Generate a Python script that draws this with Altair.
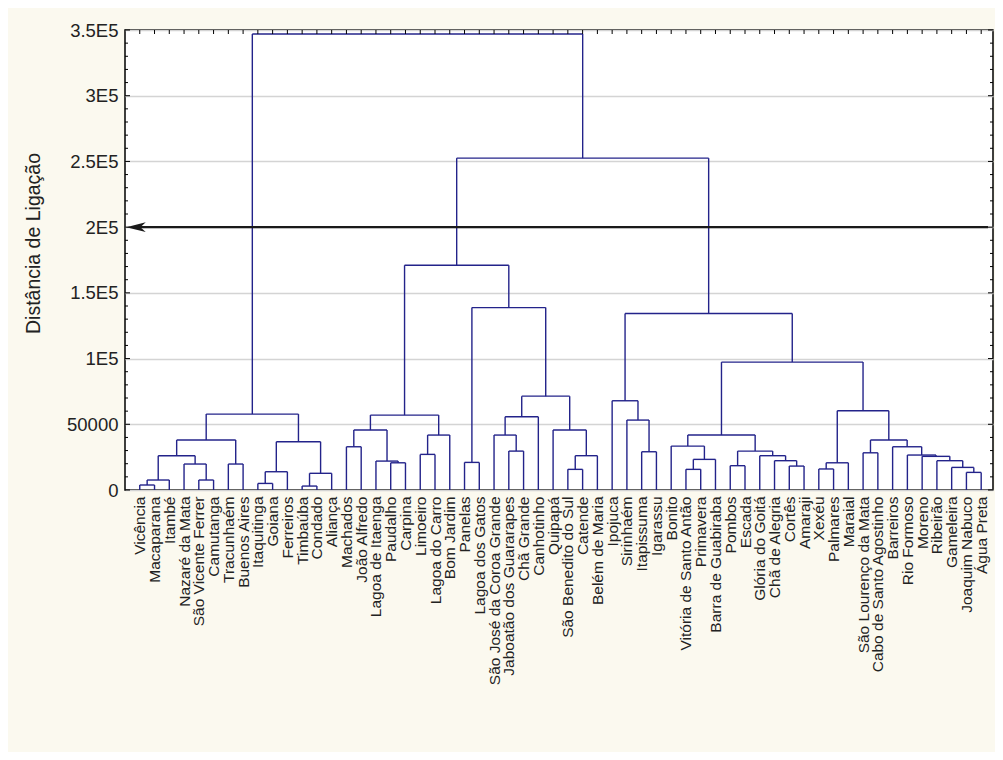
import json
import altair as alt
import pandas as pd

# ---------------- data ----------------
leaf_names = [
    "Vicência", "Macaparana", "Itambé", "Nazaré da Mata", "São Vicente Ferrer",
    "Camutanga", "Tracunhaém", "Buenos Aires", "Itaquitinga", "Goiana",
    "Ferreiros", "Timbaúba", "Condado", "Aliança", "Machados", "João Alfredo",
    "Lagoa de Itaenga", "Paudalho", "Carpina", "Limoeiro", "Lagoa do Carro",
    "Bom Jardim", "Panelas", "Lagoa dos Gatos", "São José da Coroa Grande",
    "Jaboatão dos Guararapes", "Chã Grande", "Canhotinho", "Quipapá",
    "São Benedito do Sul", "Catende", "Belém de Maria", "Ipojuca", "Sirinhaém",
    "Itapissuma", "Igarassu", "Bonito", "Vitória de Santo Antão", "Primavera",
    "Barra de Guabiraba", "Pombos", "Escada", "Glória do Goitá", "Chã de Alegria",
    "Cortês", "Amaraji", "Xexéu", "Palmares", "Maraial", "São Lourenço da Mata",
    "Cabo de Santo Agostinho", "Barreiros", "Rio Formoso", "Moreno", "Ribeirão",
    "Gameleira", "Joaquim Nabuco", "Água Preta",
]

# merges written as (linkage distance, left, right); integers = leaf number (1-based)
group_left = (57750,
              (38000,
               (26060, (7600, (3800, 1, 2), 3), (19760, 4, (7600, 5, 6))),
               (19760, 7, 8)),
              (36700,
               (13900, (5000, 9, 10), 11),
               (12700, (3000, 12, 13), 14)))

group_middle = (171000,
                (57000,
                 (45600, (32900, 15, 16), (22000, 17, (20700, 18, 19))),
                 (41800, (27100, 20, 21), 22)),
                (138800,
                 (21000, 23, 24),
                 (71400,
                  (55700, (41800, 25, (29600, 26, 27)), 28),
                  (45600, 29, (26100, (15700, 30, 31), 32)))))

group_right = (134300,
               (67900, 33, (53200, 34, (29100, 35, 36))),
               (97300,
                (41800,
                 (33400, 37, (23300, (15700, 38, 39), 40)),
                 (29600, (18500, 41, 42),
                  (26100, 43, (22300, 44, (18200, 45, 46))))),
                (60300,
                 (20700, (16000, 47, 48), 49),
                 (38000,
                  (28300, 50, 51),
                  (32900, 52,
                   (26600, 53, (25600, 54, (22300, 55, (17200, 56, (13400, 57, 58))))))))))

h_middle_right = 252500
h_root = 347000
cut_distance = 200000

y_major = [0, 50000, 100000, 150000, 200000, 250000, 300000, 350000]
y_minor = [v for v in range(10000, 350000, 10000) if v % 50000 != 0]

# ---------------- layout of the tree from the merges ----------------
tree = (h_root, group_left, (h_middle_right, group_middle, group_right))
segs = []


def walk(node):
    if isinstance(node, int):
        return float(node), 0.0
    h, a, b = node
    xa, ya = walk(a)
    xb, yb = walk(b)
    segs.append({"x": xa, "x2": xa, "y": ya, "y2": h})
    segs.append({"x": xb, "x2": xb, "y": yb, "y2": h})
    segs.append({"x": xa, "x2": xb, "y": h, "y2": h})
    return (xa + xb) / 2.0, h


walk(tree)
seg_df = pd.DataFrame(segs)
leaf_df = pd.DataFrame({"x": [float(i) for i in range(1, len(leaf_names) + 1)]})
major_df = pd.DataFrame({"y": y_major})
minor_df = pd.DataFrame({"y": y_minor})
cut_df = pd.DataFrame({"y": [cut_distance]})

# ---------------- chart ----------------
W, H = 868, 460
FONT = "Liberation Sans"
LINE = "#23238a"
xs = alt.Scale(domain=[0, 58.8], nice=False, zero=False)
ys = alt.Scale(domain=[0, 350000], nice=False)

label_expr = json.dumps(leaf_names, ensure_ascii=False) + "[datum.value - 1]"
y_label_expr = ("datum.value < 100000 ? format(datum.value, 'd') : "
                "format(datum.value / 100000, '~g') + 'E5'")

x_axis = alt.Axis(
    values=list(range(1, len(leaf_names) + 1)), labelExpr=label_expr,
    labelAngle=270, labelFontSize=15.5, labelFont=FONT, labelColor="#222",
    labelPadding=6, labelOverlap=False, labelBound=False, labelFlush=False,
    labelLimit=500, ticks=False, domain=False, grid=False, title="")
y_axis = alt.Axis(
    values=y_major, labelExpr=y_label_expr, labelFontSize=18.5, labelFont=FONT,
    labelColor="#222", labelPadding=7, ticks=False, domain=False,
    grid=True, gridColor="#d4d4d4", gridWidth=1.5,
    title="Distância de Ligação", titleFont=FONT, titleFontSize=19.5,
    titleFontWeight="normal", titleColor="#222", titleX=-92, titleY=213,
    titleAlign="center", titleBaseline="middle")


def X():
    return alt.X("x:Q", scale=xs, axis=x_axis)


def Y():
    return alt.Y("y:Q", scale=ys, axis=y_axis)


tree_layer = alt.Chart(seg_df).mark_rule(color=LINE, strokeWidth=1.4).encode(
    x=X(), x2="x2:Q", y=Y(), y2="y2:Q")

tick_left_major = alt.Chart(major_df).mark_rule(color="black", strokeWidth=1).encode(
    y=Y(), x=alt.value(0), x2=alt.value(5))
tick_left_minor = alt.Chart(minor_df).mark_rule(color="black", strokeWidth=1).encode(
    y=Y(), x=alt.value(0), x2=alt.value(3))
tick_right_major = alt.Chart(major_df).mark_rule(color="black", strokeWidth=1).encode(
    y=Y(), x=alt.value(W - 5), x2=alt.value(W))
tick_right_minor = alt.Chart(minor_df).mark_rule(color="black", strokeWidth=1).encode(
    y=Y(), x=alt.value(W - 3), x2=alt.value(W))
tick_top = alt.Chart(leaf_df).mark_rule(color="black", strokeWidth=1).encode(
    x=X(), y=alt.value(0), y2=alt.value(4))

arrow_line = alt.Chart(cut_df).mark_rule(color="#1a1a1a", strokeWidth=2.2).encode(
    y=Y(), x=alt.value(10), x2=alt.value(W - 5))
arrow_head = alt.Chart(cut_df).mark_point(
    shape="M-1,0L1,-0.5L0.45,0L1,0.5Z", filled=True, color="#1a1a1a",
    opacity=1, size=380).encode(y=Y(), x=alt.value(11))

chart = alt.layer(
    tree_layer, tick_left_major, tick_left_minor, tick_right_major,
    tick_right_minor, tick_top, arrow_line, arrow_head,
).properties(
    width=W, height=H,
    autosize=alt.AutoSizeParams(type="none"),
    padding={"left": 117, "top": 22, "right": 2, "bottom": 262},
    background="#fbf9ef",
).configure_view(
    stroke="black", strokeWidth=1.5, fill="white"
)

chart.save("out.html", embed_options={"renderer": "svg", "actions": False})
